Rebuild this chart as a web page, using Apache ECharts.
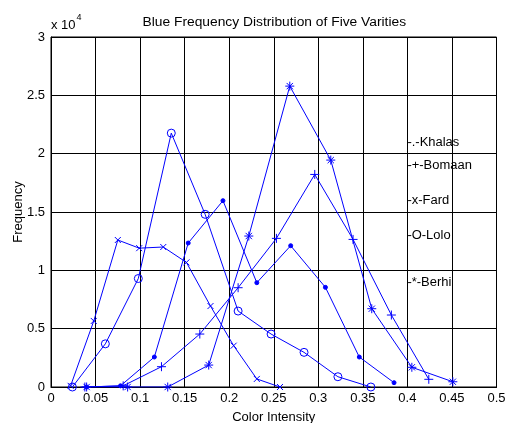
<!DOCTYPE html>
<html><head><meta charset="utf-8">
<script src="https://cdn.jsdelivr.net/npm/echarts@6/dist/echarts.min.js"></script>
<style>html,body{margin:0;padding:0;background:#fff}#c{width:506px;height:423px}</style>
</head><body><div id="c"></div>
<script>
const xTicks = [0,0.05,0.1,0.15,0.2,0.25,0.3,0.35,0.4,0.45,0.5];
const yTickLabels = ['0','0.5','1','1.5','2','2.5','3'];

const khalasX = [0.040,0.078,0.116,0.154,0.193,0.231,0.269,0.308,0.346,0.385];
const khalasY = [0,100,2570,12340,15970,8940,12110,8540,2570,370];
const bomaanX = [0.038,0.081,0.124,0.167,0.210,0.253,0.296,0.339,0.382,0.424];
const bomaanY = [0,100,1740,4540,8510,12740,18220,12650,6170,660];
const fardX = [0.022,0.048,0.075,0.099,0.126,0.152,0.179,0.205,0.231,0.257];
const fardY = [100,5660,12600,11900,12000,10680,6940,3540,690,0];
const loloX = [0.024,0.061,0.098,0.135,0.173,0.210,0.247,0.284,0.322,0.359];
const loloY = [0,3700,9300,21760,14800,6510,4540,2970,880,0];
const berhiX = [0.040,0.086,0.131,0.177,0.222,0.268,0.314,0.360,0.405,0.451];
const berhiY = [0,0,0,1880,12940,25790,19450,6710,1690,450];

const legendLabels = ['-.-Khalas','-+-Bomaan','-x-Fard','-O-Lolo','-*-Berhi'];
const legendAnchorX = 0.4;
const legendAnchorY = [20980,18930,15960,12960,8960];

const FONT = 'Liberation Sans, Arial, sans-serif';
const BLUE = '#0000ff';
const zip = (a,b) => a.map((v,i)=>[v,b[i]]);

function mk(name, xs, ys, symbol, size, fill) {
  return {
    type:'line', name, data: zip(xs,ys), symbol, symbolSize:size,
    showAllSymbol:true, animation:false,
    lineStyle:{color:BLUE,width:1},
    itemStyle:{color: fill, borderColor:BLUE, borderWidth:1},
    emphasis:{disabled:true}
  };
}

const chart = echarts.init(document.getElementById('c'), null, {renderer:'canvas'});
chart.setOption({
  animation:false,
  backgroundColor:'#fff',
  grid:{left:51, right:9.5, top:37, bottom:36, containLabel:false, outerBoundsMode:'none',
    show:true, borderColor:'#000', borderWidth:1, backgroundColor:'#fff'},
  xAxis:{type:'value', min:0, max:0.5, interval:0.05,
    name:'Color Intensity', nameLocation:'middle', nameGap:24, nameMoveOverlap:false,
    nameTextStyle:{fontSize:13, color:'#000', fontFamily:FONT},
    axisLine:{lineStyle:{color:'#000'}},
    axisTick:{inside:true, length:5, lineStyle:{color:'#000'}},
    splitLine:{show:true, lineStyle:{color:'#000', width:1}},
    axisLabel:{fontSize:13, color:'#000', fontFamily:FONT, margin:5,
      formatter: v => { const i = xTicks.findIndex(t => Math.abs(t-v)<1e-9); return i>=0 ? String(xTicks[i]) : ''; }}
  },
  yAxis:{type:'value', min:0, max:30000, interval:5000,
    name:'Frequency', nameLocation:'middle', nameGap:26.5, nameMoveOverlap:false,
    nameTextStyle:{fontSize:13, color:'#000', fontFamily:FONT},
    axisLine:{lineStyle:{color:'#000'}},
    axisTick:{inside:true, length:5, lineStyle:{color:'#000'}},
    splitLine:{show:true, lineStyle:{color:'#000', width:1}},
    axisLabel:{fontSize:13, color:'#000', fontFamily:FONT, margin:6,
      formatter: v => yTickLabels[Math.round(v/5000)] || ''}
  },
  series:[
    mk('Khalas', khalasX, khalasY, 'circle', 4, BLUE),
    mk('Bomaan', bomaanX, bomaanY, 'path://M5,0L5,10M0,5L10,5', 9, BLUE),
    mk('Fard', fardX, fardY, 'path://M0,0L10,10M10,0L0,10', 6, BLUE),
    mk('Lolo', loloX, loloY, 'circle', 8, 'rgba(0,0,0,0)'),
    mk('Berhi', berhiX, berhiY, 'path://M5,0L5,10M0,5L10,5M1.5,1.5L8.5,8.5M8.5,1.5L1.5,8.5', 9, BLUE)
  ]
});

const g = [
  {type:'text', x:274.3, y:22.7, scaleX:1.15,
    style:{text:'Blue Frequency Distribution of Five Varities', fontSize:12, fill:'#000', fontFamily:FONT, align:'center', verticalAlign:'middle'}},
  {type:'text', x:51, y:25.2, style:{text:'x 10', fontSize:13, fill:'#000', fontFamily:FONT, verticalAlign:'middle'}},
  {type:'text', x:76.5, y:17.8, style:{text:'4', fontSize:9, fill:'#000', fontFamily:FONT, verticalAlign:'middle'}}
];
legendLabels.forEach((t,i) => {
  const p = chart.convertToPixel({gridIndex:0}, [legendAnchorX, legendAnchorY[i]]);
  g.push({type:'text', x:p[0], y:p[1], scaleX:1.08,
    style:{text:t, fontSize:12, fill:'#000', fontFamily:FONT, verticalAlign:'middle', align:'left'}});
});
chart.setOption({graphic:g});
</script></body></html>
